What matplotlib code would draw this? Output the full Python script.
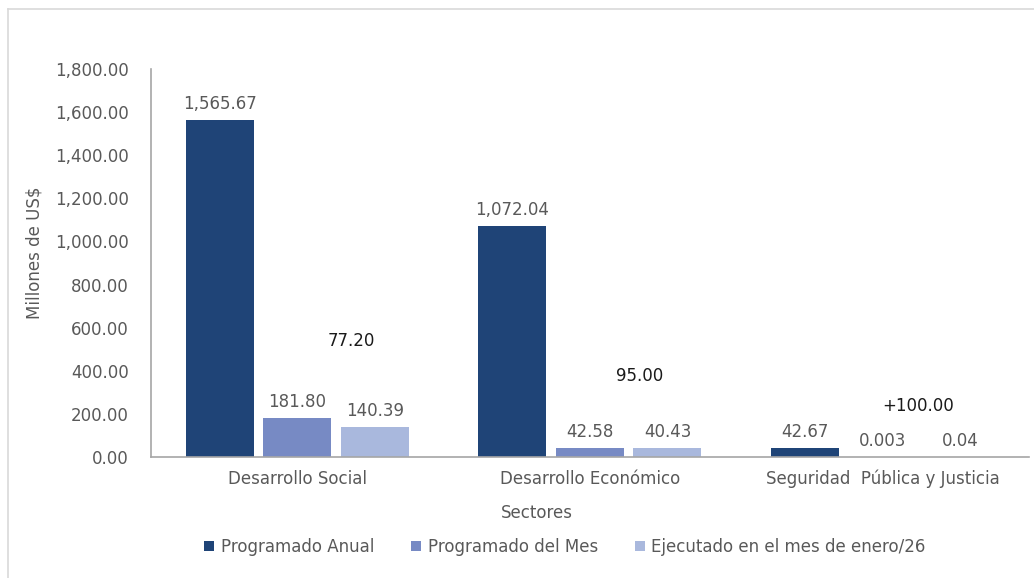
import matplotlib
matplotlib.use("Agg")
import matplotlib.pyplot as plt
import numpy as np

# ---- data ----
sectores = ["Desarrollo Social", "Desarrollo Económico", "Seguridad  Pública y Justicia"]
programado_anual = [1565.67, 1072.04, 42.67]
programado_mes = [181.80, 42.58, 0.003]
ejecutado_mes = [140.39, 40.43, 0.04]
etiquetas_anual = ["1,565.67", "1,072.04", "42.67"]
etiquetas_mes = ["181.80", "42.58", "0.003"]
etiquetas_ejec = ["140.39", "40.43", "0.04"]
porcentajes = ["77.20", "95.00", "+100.00"]
series_nombres = ["Programado Anual", "Programado del Mes", "Ejecutado en el mes de enero/26"]
yticks = [0, 200, 400, 600, 800, 1000, 1200, 1400, 1600, 1800]

# ---- layout / style ----
colores = ["#1F4477", "#778AC4", "#A9B8DD"]
pct_pos = [(0.183, 538), (1.171, 376), (2.12, 237)]
gris = "#595959"
fs = 12
plt.rcParams['font.family'] = ['DejaVu Sans']

fig = plt.figure(figsize=(10.34, 5.78), dpi=100)
ax = fig.add_axes([0.146, 0.2093, 0.849, 0.6713])

x = np.arange(len(sectores))
w = 0.232
off = 0.265
series = [programado_anual, programado_mes, ejecutado_mes]
labels = [etiquetas_anual, etiquetas_mes, etiquetas_ejec]
for i, (vals, labs) in enumerate(zip(series, labels)):
    pos = x + (i - 1) * off
    ax.bar(pos, vals, width=w, color=colores[i], label=series_nombres[i], zorder=2)
    for px, v, t in zip(pos, vals, labs):
        ax.annotate(t, (px, v), xytext=(0, 5), textcoords="offset points",
                    ha="center", va="bottom", fontsize=fs, color=gris)

for (px, py), t in zip(pct_pos, porcentajes):
    ax.text(px, py, t, ha="center", va="center", fontsize=fs, color="#1A1A1A")

ax.set_xlim(-0.5, 2.5)
ax.set_ylim(0, 1800)
ax.set_yticks(yticks)
ax.set_yticklabels([f"{v:,.2f}" for v in yticks])
ax.set_xticks(x)
ax.set_xticklabels(sectores)
ax.tick_params(axis="both", length=0, labelsize=fs, colors=gris, pad=9)
ax.tick_params(axis="y", pad=16)
for s in ["top", "right"]:
    ax.spines[s].set_visible(False)
for s in ["left", "bottom"]:
    ax.spines[s].set_color("#A6A6A6")
    ax.spines[s].set_linewidth(1.2)

fig.text(34 / 1034, 1 - 253 / 578, "Millones de US$", rotation=90, ha="center", va="center",
         fontsize=fs, color=gris)
fig.text(537 / 1034, 1 - 513 / 578, "Sectores", ha="center", va="center",
         fontsize=fs, color=gris)

leg = fig.legend(loc="center", bbox_to_anchor=(565 / 1034, 1 - 547 / 578), ncol=3,
                 frameon=False, fontsize=fs, handlelength=0.6, handleheight=0.6,
                 handletextpad=0.4, columnspacing=2.2, labelcolor=gris)

# outer frame lines (top and left)
fig.add_artist(plt.Line2D([8 / 1034, 1], [1 - 9 / 578, 1 - 9 / 578], color="#D9D9D9", lw=1.2,
                          transform=fig.transFigure))
fig.add_artist(plt.Line2D([8 / 1034, 8 / 1034], [0, 1 - 9 / 578], color="#D9D9D9", lw=1.2,
                          transform=fig.transFigure))

fig.savefig("out.png", dpi=100)
